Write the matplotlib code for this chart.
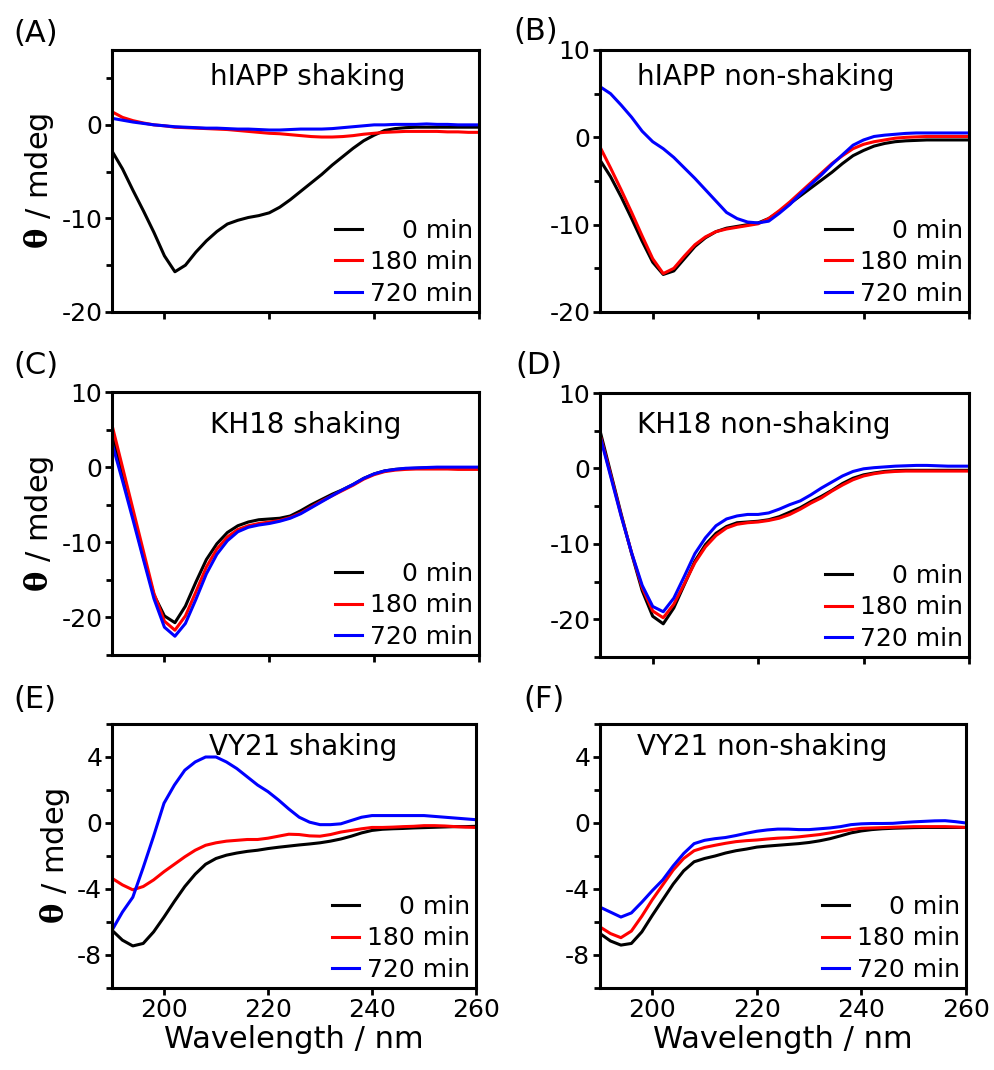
import numpy as np
import matplotlib
matplotlib.use('Agg')
import matplotlib.pyplot as plt
from matplotlib.ticker import MultipleLocator

plt.rcParams['font.family'] = ['DejaVu Sans']
plt.rcParams['mathtext.fontset'] = 'dejavuserif'
plt.rcParams['axes.unicode_minus'] = False

# wavelength grid (nm)
wl = np.arange(190, 261, 2)

labels = ['    0 min', '180 min', '720 min']
colors = ['black', 'red', 'blue']

# (A) hIAPP shaking
a0 = [-2.8, -4.7, -7.0, -9.2, -11.5, -14.0, -15.7, -15.0, -13.6, -12.4, -11.4, -10.6,
      -10.2, -9.9, -9.7, -9.4, -8.8, -8.0, -7.1, -6.2, -5.3, -4.3, -3.4, -2.5,
      -1.7, -1.1, -0.6, -0.4, -0.3, -0.25, -0.25, -0.25, -0.25, -0.25, -0.25, -0.25]
a180 = [1.4, 0.8, 0.45, 0.2, 0.0, -0.1, -0.25, -0.3, -0.35, -0.4, -0.45, -0.5,
        -0.6, -0.7, -0.8, -0.9, -0.95, -1.05, -1.15, -1.25, -1.3, -1.3, -1.25, -1.15,
        -1.0, -0.9, -0.8, -0.75, -0.7, -0.7, -0.7, -0.7, -0.75, -0.75, -0.8, -0.8]
a720 = [0.7, 0.5, 0.3, 0.15, 0.0, -0.1, -0.2, -0.25, -0.3, -0.35, -0.35, -0.4,
        -0.45, -0.45, -0.5, -0.55, -0.55, -0.5, -0.45, -0.45, -0.45, -0.4, -0.3, -0.2,
        -0.1, 0.0, 0.0, 0.05, 0.05, 0.05, 0.1, 0.05, 0.05, 0.0, 0.0, 0.0]

# (B) hIAPP non-shaking
b0 = [-2.6, -4.5, -6.8, -9.3, -11.9, -14.3, -15.7, -15.3, -13.9, -12.5, -11.5, -10.8,
      -10.4, -10.2, -10.0, -9.8, -9.3, -8.5, -7.6, -6.7, -5.8, -4.9, -4.0, -3.0,
      -2.1, -1.5, -1.0, -0.7, -0.5, -0.4, -0.35, -0.3, -0.3, -0.3, -0.3, -0.3]
b180 = [-1.1, -3.5, -6.0, -8.6, -11.3, -13.9, -15.6, -15.0, -13.6, -12.3, -11.4, -10.8,
        -10.5, -10.3, -10.1, -9.9, -9.3, -8.4, -7.4, -6.3, -5.2, -4.1, -3.0, -2.1,
        -1.3, -0.8, -0.5, -0.3, -0.1, 0.0, 0.05, 0.1, 0.1, 0.1, 0.1, 0.1]
b720 = [5.8, 5.0, 3.7, 2.3, 0.7, -0.5, -1.3, -2.3, -3.5, -4.7, -6.0, -7.3,
        -8.6, -9.3, -9.7, -9.8, -9.6, -8.7, -7.7, -6.5, -5.4, -4.3, -3.1, -2.0,
        -0.9, -0.3, 0.1, 0.25, 0.35, 0.45, 0.5, 0.5, 0.5, 0.5, 0.5, 0.5]

# (C) KH18 shaking
c0 = [4.5, -1.0, -6.5, -12.0, -17.0, -19.8, -20.7, -18.5, -15.3, -12.3, -10.2, -8.7,
      -7.8, -7.3, -7.0, -6.9, -6.8, -6.5, -5.8, -5.0, -4.3, -3.6, -3.0, -2.3,
      -1.5, -0.9, -0.5, -0.3, -0.2, -0.15, -0.1, -0.1, -0.1, -0.1, -0.1, -0.15]
c180 = [5.6, 0.0, -5.6, -11.2, -16.8, -20.5, -21.7, -19.8, -16.6, -13.3, -10.9, -9.3,
        -8.3, -7.8, -7.5, -7.3, -7.1, -6.7, -6.1, -5.3, -4.5, -3.8, -3.1, -2.4,
        -1.6, -1.0, -0.6, -0.4, -0.3, -0.25, -0.25, -0.25, -0.25, -0.3, -0.3, -0.3]
c720 = [3.2, -1.8, -7.0, -12.3, -17.5, -21.3, -22.5, -20.8, -17.6, -14.2, -11.6, -9.8,
        -8.6, -8.0, -7.7, -7.5, -7.2, -6.8, -6.2, -5.4, -4.6, -3.8, -3.0, -2.3,
        -1.5, -0.9, -0.5, -0.3, -0.15, -0.1, -0.05, 0.0, 0.0, 0.0, 0.0, 0.0]

# (D) KH18 non-shaking
d0 = [5.0, -0.5, -6.0, -11.3, -16.2, -19.6, -20.6, -18.5, -15.4, -12.3, -10.1, -8.6,
      -7.7, -7.2, -7.1, -7.0, -6.8, -6.4, -5.8, -5.2, -4.4, -3.7, -2.9, -2.0,
      -1.3, -0.85, -0.6, -0.4, -0.3, -0.25, -0.25, -0.25, -0.25, -0.25, -0.25, -0.25]
d180 = [4.5, -0.8, -6.2, -11.2, -15.8, -18.9, -19.8, -18.0, -15.3, -12.5, -10.4, -8.9,
        -7.9, -7.4, -7.2, -7.1, -6.9, -6.6, -6.1, -5.4, -4.6, -3.9, -3.0, -2.2,
        -1.5, -1.0, -0.7, -0.5, -0.4, -0.35, -0.35, -0.35, -0.35, -0.35, -0.35, -0.35]
d720 = [4.3, -1.0, -6.3, -11.2, -15.5, -18.3, -19.0, -17.2, -14.3, -11.3, -9.2, -7.6,
        -6.7, -6.3, -6.1, -6.1, -5.9, -5.4, -4.8, -4.3, -3.5, -2.6, -1.8, -1.0,
        -0.4, -0.05, 0.1, 0.2, 0.3, 0.35, 0.4, 0.4, 0.35, 0.3, 0.3, 0.3]

# (E) VY21 shaking
e0 = [-6.5, -7.1, -7.45, -7.3, -6.6, -5.7, -4.75, -3.85, -3.1, -2.5, -2.15, -1.95,
      -1.82, -1.72, -1.65, -1.55, -1.47, -1.4, -1.33, -1.27, -1.2, -1.1, -0.97, -0.8,
      -0.6, -0.45, -0.38, -0.35, -0.33, -0.3, -0.28, -0.26, -0.24, -0.22, -0.22, -0.2]
e180 = [-3.35, -3.75, -4.05, -3.85, -3.45, -2.95, -2.5, -2.05, -1.65, -1.35, -1.2, -1.1,
        -1.05, -1.0, -1.0, -0.92, -0.8, -0.68, -0.7, -0.78, -0.8, -0.7, -0.55, -0.45,
        -0.35, -0.27, -0.27, -0.25, -0.22, -0.2, -0.16, -0.16, -0.18, -0.22, -0.25, -0.27]
e720 = [-6.5, -5.4, -4.5, -2.7, -0.8, 1.2, 2.3, 3.2, 3.7, 4.0, 4.0, 3.7,
        3.3, 2.8, 2.3, 1.9, 1.4, 0.85, 0.35, 0.05, -0.1, -0.1, -0.05, 0.15,
        0.35, 0.45, 0.45, 0.45, 0.45, 0.45, 0.45, 0.4, 0.35, 0.3, 0.25, 0.2]

# (F) VY21 non-shaking
f0 = [-6.7, -7.15, -7.4, -7.3, -6.6, -5.6, -4.65, -3.7, -2.9, -2.35, -2.15, -2.0,
      -1.82, -1.68, -1.58, -1.46, -1.4, -1.35, -1.3, -1.25, -1.18, -1.08, -0.95, -0.78,
      -0.6, -0.48, -0.4, -0.35, -0.32, -0.3, -0.28, -0.27, -0.27, -0.27, -0.27, -0.27]
f180 = [-6.3, -6.7, -6.95, -6.55, -5.65, -4.65, -3.75, -2.85, -2.15, -1.68, -1.48, -1.35,
        -1.23, -1.13, -1.07, -1.03, -0.97, -0.92, -0.89, -0.84, -0.77, -0.7, -0.6, -0.5,
        -0.4, -0.32, -0.3, -0.28, -0.26, -0.24, -0.22, -0.22, -0.22, -0.22, -0.24, -0.27]
f720 = [-5.1, -5.4, -5.7, -5.45, -4.8, -4.1, -3.45, -2.6, -1.85, -1.25, -1.05, -0.95,
        -0.88, -0.76, -0.62, -0.5, -0.42, -0.37, -0.37, -0.4, -0.4, -0.35, -0.3, -0.22,
        -0.1, -0.05, -0.03, -0.03, -0.02, 0.03, 0.07, 0.1, 0.13, 0.14, 0.08, 0.0]

panels = [
    ('(A)', 'hIAPP shaking', [a0, a180, a720], (-20, 8), 10),
    ('(B)', 'hIAPP non-shaking', [b0, b180, b720], (-20, 10), 10),
    ('(C)', 'KH18 shaking', [c0, c180, c720], (-25, 10), 10),
    ('(D)', 'KH18 non-shaking', [d0, d180, d720], (-25, 10), 10),
    ('(E)', 'VY21 shaking', [e0, e180, e720], (-10, 6), 4),
    ('(F)', 'VY21 non-shaking', [f0, f180, f720], (-10, 6), 4),
]

W, H = 995, 1070
fig = plt.figure(figsize=(W / 100, H / 100), dpi=100)

# axes boxes in pixels: left, top, right, bottom
boxes = [(112, 50, 479, 312), (600, 50, 969, 312),
         (112, 392, 479, 655), (600, 393, 969, 657),
         (112, 724, 476, 988), (600, 724, 966, 988)]
tag_pos = [(13, 33), (513, 31), (13, 365), (515, 366), (13, 700), (523, 700)]
title_pos = [(0.267, 0.897), (0.10, 0.897), (0.267, 0.875),
             (0.10, 0.879), (0.267, 0.913), (0.10, 0.913)]

for i, (tag, title, series, ylim, major) in enumerate(panels):
    l, t, r, b = boxes[i]
    ax = fig.add_axes([l / W, 1 - b / H, (r - l) / W, (b - t) / H])
    for y, c, lab in zip(series, colors, labels):
        ax.plot(wl, y, color=c, lw=2.2, label=lab, solid_joinstyle='round')
    ax.set_xlim(190, 260)
    ax.set_ylim(*ylim)
    ax.xaxis.set_major_locator(MultipleLocator(20))
    ax.yaxis.set_major_locator(MultipleLocator(major))
    ax.yaxis.set_minor_locator(MultipleLocator(major / 2))
    ax.tick_params(which='both', direction='out', width=2, labelsize=18, pad=2,
                   top=False, right=False)
    ax.tick_params(which='major', length=5)
    ax.tick_params(which='minor', length=4)
    for s in ax.spines.values():
        s.set_linewidth(2.2)
    if i < 4:
        ax.tick_params(axis='x', labelbottom=False)
    else:
        ax.set_xlabel('Wavelength / nm', fontsize=22, labelpad=2)
    if i % 2 == 0:
        ax.set_ylabel(r'$\mathbf{\theta}$ / mdeg', fontsize=22, labelpad=4)
    tx, ty = title_pos[i]
    ax.text(tx, ty, title, transform=ax.transAxes, fontsize=20, va='center', ha='left')
    leg = ax.legend(loc='lower right', frameon=False, fontsize=18,
                    handlelength=1.1, handletextpad=0.3, labelspacing=0.3,
                    borderaxespad=0.1, borderpad=0.15)
    px, py = tag_pos[i]
    fig.text(px / W, 1 - py / H, tag, fontsize=22, va='center', ha='left')

fig.savefig('out.png', dpi=100)
